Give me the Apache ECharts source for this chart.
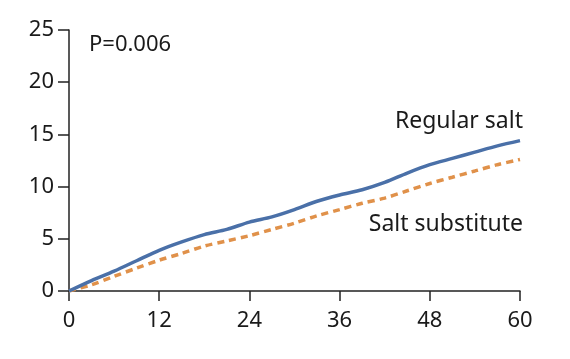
<!DOCTYPE html>
<html>
<head>
<meta charset="utf-8">
<script src="https://cdn.jsdelivr.net/npm/echarts@6/dist/echarts.min.js"></script>
<style>html,body{margin:0;padding:0;background:#fff;}#c{width:570px;height:359px;}</style>
</head>
<body>
<div id="c"></div>
<script>
var months = [0,3,6,9,12,15,18,21,24,27,30,33,36,39,42,45,48,51,54,57,60];
var regularSalt = [0,1.0,1.9,2.9,3.9,4.7,5.4,5.9,6.6,7.1,7.8,8.6,9.2,9.7,10.4,11.3,12.1,12.7,13.3,13.9,14.4];
var saltSubstitute = [0,0.6,1.4,2.2,2.95,3.6,4.3,4.8,5.3,5.9,6.5,7.2,7.8,8.4,8.9,9.6,10.3,10.9,11.5,12.1,12.6];
var xTicks = [0,12,24,36,48,60];
var yTicks = [0,5,10,15,20,25];

function pairs(xs, ys){ return xs.map(function(x,i){return [x, ys[i]];}); }

var FONT = 'Noto Sans';
var chart = echarts.init(document.getElementById('c'));
chart.setOption({
  animation: false,
  backgroundColor: '#fff',
  grid: {left: 69, right: 50, top: 30, bottom: 68, containLabel: false},
  xAxis: {
    type: 'value', min: 0, max: 60, interval: 12,
    axisLine: {show: true, lineStyle: {color: '#222', width: 1.5}},
    axisTick: {show: true, length: 10, lineStyle: {color: '#222', width: 1.5}},
    axisLabel: {fontFamily: FONT, fontSize: 22, color: '#1a1a1a', margin: 19},
    splitLine: {show: false}
  },
  yAxis: {
    type: 'value', min: 0, max: 25, interval: 5,
    axisLine: {show: true, lineStyle: {color: '#222', width: 1.5}},
    axisTick: {show: true, length: 11, lineStyle: {color: '#222', width: 1.5}},
    axisLabel: {fontFamily: FONT, fontSize: 22, color: '#1a1a1a', margin: 15},
    splitLine: {show: false}
  },
  series: [
    {name: 'Regular salt', type: 'line', data: pairs(months, regularSalt), showSymbol: false, smooth: 0.3,
     lineStyle: {color: '#4a70a8', width: 3.5}, z: 3},
    {name: 'Salt substitute', type: 'line', data: pairs(months, saltSubstitute), showSymbol: false, smooth: 0.3,
     lineStyle: {color: '#e0914a', width: 3.5, type: [7, 5]}, z: 2}
  ],
  graphic: [
    {type: 'text', left: 89, top: 34, style: {text: 'P=0.006', fontFamily: FONT, fontSize: 22, fill: '#1a1a1a'}},
    {type: 'text', right: 47, top: 110, style: {text: 'Regular salt', fontFamily: FONT, fontSize: 23, fill: '#1a1a1a'}},
    {type: 'text', right: 47, top: 213, style: {text: 'Salt substitute', fontFamily: FONT, fontSize: 23, fill: '#1a1a1a'}}
  ]
});
</script>
</body>
</html>
